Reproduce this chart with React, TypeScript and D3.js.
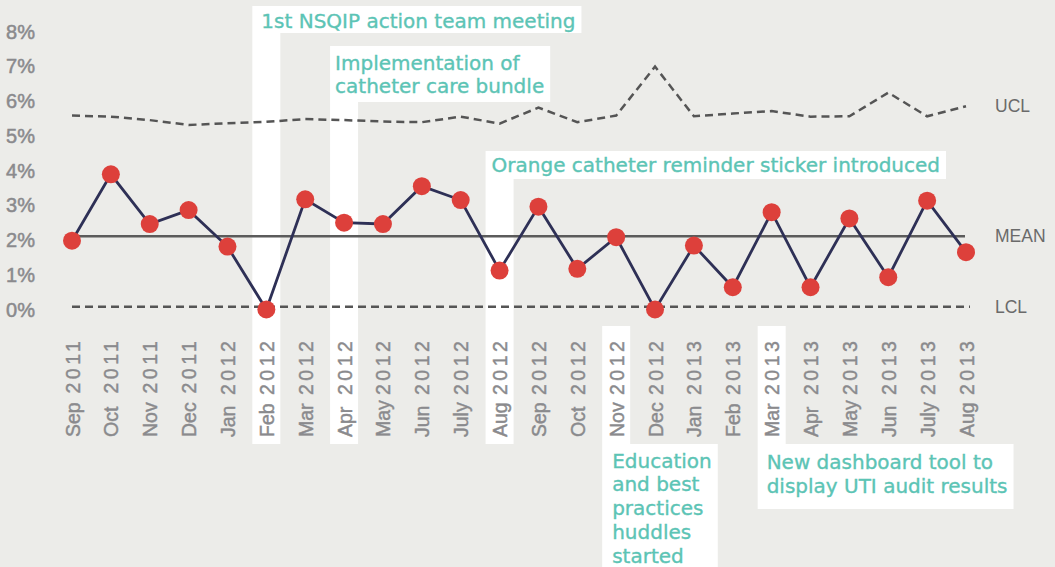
import { useEffect, useRef } from "react";
import * as d3 from "d3";

const monthLabels = ["Sep", "Oct", "Nov", "Dec", "Jan", "Feb", "Mar", "Apr", "May", "Jun", "July", "Aug",
  "Sep", "Oct", "Nov", "Dec", "Jan", "Feb", "Mar", "Apr", "May", "Jun", "July", "Aug"];
const yearLabels = ["2011", "2011", "2011", "2011", "2012", "2012", "2012", "2012", "2012", "2012", "2012", "2012",
  "2012", "2012", "2012", "2012", "2013", "2013", "2013", "2013", "2013", "2013", "2013", "2013"];
// monthly UTI rate (%)
const utiRate = [1.98, 3.89, 2.46, 2.86, 1.81, 0, 3.17, 2.5, 2.46, 3.55, 3.15, 1.12,
  2.96, 1.17, 2.08, 0, 1.84, 0.64, 2.8, 0.64, 2.62, 0.93, 3.13, 1.65];
const uclValues = [5.58, 5.55, 5.45, 5.31, 5.36, 5.4, 5.48, 5.45, 5.41, 5.39, 5.55, 5.35,
  5.81, 5.39, 5.58, 6.99, 5.56, 5.64, 5.71, 5.55, 5.56, 6.24, 5.56, 5.85];
const meanValue = 2.11;
const lclValue = 0.08;
const yTicks = [0, 1, 2, 3, 4, 5, 6, 7, 8];

const annotationMonths = [5, 7, 11, 14, 18];
const annotationTexts = [
  ["1st NSQIP action team meeting"],
  ["Implementation of", "catheter care bundle"],
  ["Orange catheter reminder sticker introduced"],
  ["Education", "and best", "practices", "huddles", "started"],
  ["New dashboard tool to", "display UTI audit results"],
];

// box placement for each annotation (layout only)
const annotationLayout = [
  { top: 6, bottom: 33, dx: 9, base: 22, side: "above" },
  { top: 46, bottom: 102, dx: 5, base: 23.5, side: "above" },
  { top: 151, bottom: 179, dx: 6, base: 21, side: "above" },
  { top: 444, bottom: 567, dx: 10, base: 23.7, side: "below" },
  { top: 444, bottom: 509, dx: 9, base: 25, side: "below" },
];

const W = 1055;
const H = 567;
const teal = "#5cc4b5";
const grey = "#8a8a8d";
const sans = "Liberation Sans, Arial, sans-serif";

export default function App() {
  const svgRef = useRef<SVGSVGElement>(null);

  useEffect(() => {
    const svg = d3.select(svgRef.current);
    svg.selectAll("*").remove();

    const x = d3.scalePoint<number>().domain(d3.range(utiRate.length)).range([72, 966]);
    const y = d3.scaleLinear().domain([0, 8]).range([309.5, 31.5]);

    svg.append("rect").attr("width", W).attr("height", H).attr("fill", "#ecece9");

    // white call-out boxes and strips behind the lines
    const boxes = svg.append("g");
    const notes = svg.append("g");
    const stripTop = 326;
    const stripBottom = 444;

    annotationMonths.forEach((m, i) => {
      const lay = annotationLayout[i];
      const left = (x(m) as number) - 14;
      const t = notes.append("text")
        .attr("font-family", "DejaVu Sans, sans-serif")
        .attr("font-size", 20)
        .attr("fill", teal)
        .attr("stroke", teal)
        .attr("stroke-width", 0.35);
      annotationTexts[i].forEach((line, j) => {
        t.append("tspan")
          .attr("x", left + lay.dx)
          .attr("y", lay.top + lay.base + j * 23.7)
          .text(line);
      });
      const tw = (t.node() as SVGTextElement).getBBox().width;
      boxes.append("rect")
        .attr("x", left)
        .attr("y", lay.top)
        .attr("width", lay.dx + tw + 6)
        .attr("height", lay.bottom - lay.top)
        .attr("fill", "#fff");
      const sTop = lay.side === "above" ? lay.bottom : stripTop;
      const sBot = lay.side === "above" ? stripBottom : lay.top;
      boxes.append("rect")
        .attr("x", left)
        .attr("y", sTop)
        .attr("width", 28)
        .attr("height", sBot - sTop)
        .attr("fill", "#fff");
    });
    notes.raise();

    const lines = svg.append("g");
    const [x0, x1] = x.range();

    lines.append("line")
      .attr("x1", x0).attr("x2", x1 - 1)
      .attr("y1", y(meanValue)).attr("y2", y(meanValue))
      .attr("stroke", "#5b5b5b").attr("stroke-width", 2.5);

    lines.append("line")
      .attr("x1", x0).attr("x2", x1 + 4)
      .attr("y1", y(lclValue)).attr("y2", y(lclValue))
      .attr("stroke", "#555").attr("stroke-width", 2.5)
      .attr("stroke-dasharray", "8,5");

    const uclLine = d3.line<number>()
      .x((d, i) => x(i) as number)
      .y(d => y(d));
    lines.append("path")
      .attr("d", uclLine(uclValues))
      .attr("fill", "none")
      .attr("stroke", "#555").attr("stroke-width", 2.5)
      .attr("stroke-dasharray", "8,5");

    const rateLine = d3.line<number>()
      .x((d, i) => x(i) as number)
      .y(d => y(d));
    lines.append("path")
      .attr("d", rateLine(utiRate))
      .attr("fill", "none")
      .attr("stroke", "#2e3056")
      .attr("stroke-width", 2.8);

    lines.selectAll("circle")
      .data(utiRate)
      .enter()
      .append("circle")
      .attr("cx", (d, i) => x(i) as number)
      .attr("cy", d => y(d))
      .attr("r", 9)
      .attr("fill", "#dd403b");

    // control limit labels
    const limitLabels = [
      { name: "UCL", value: uclValues[uclValues.length - 1] },
      { name: "MEAN", value: meanValue },
      { name: "LCL", value: lclValue },
    ];
    svg.append("g").selectAll("text")
      .data(limitLabels)
      .enter()
      .append("text")
      .attr("x", 995)
      .attr("y", d => y(d.value))
      .attr("dy", "0.35em")
      .attr("font-family", sans)
      .attr("font-size", 17.5)
      .attr("fill", "#6a6a6a")
      .text(d => d.name);

    // y axis labels
    svg.append("g").selectAll("text")
      .data(yTicks)
      .enter()
      .append("text")
      .attr("x", 35)
      .attr("y", d => y(d))
      .attr("dy", "0.36em")
      .attr("text-anchor", "end")
      .attr("font-family", sans)
      .attr("font-size", 20)
      .attr("fill", grey)
      .attr("stroke", grey)
      .attr("stroke-width", 0.5)
      .text(d => d + "%");

    // x axis labels, rotated: month from the bottom, year from the top
    const xl = svg.append("g")
      .attr("font-family", sans)
      .attr("font-size", 21)
      .attr("fill", grey)
      .attr("stroke", grey)
      .attr("stroke-width", 0.45);
    monthLabels.forEach((m, i) => {
      const cx = (x(i) as number) + 7.5;
      xl.append("text")
        .attr("transform", `translate(${cx},437) rotate(-90) scale(0.93,1)`)
        .text(m);
      xl.append("text")
        .attr("transform", `translate(${cx},337.5) rotate(-90) scale(0.93,1)`)
        .attr("letter-spacing", "3.8px")
        .attr("text-anchor", "end")
        .text(yearLabels[i]);
    });
  }, []);

  return (
    <svg ref={svgRef} width={W} height={H}
      style={{ position: "absolute", left: 0, top: 0, display: "block" }} />
  );
}
